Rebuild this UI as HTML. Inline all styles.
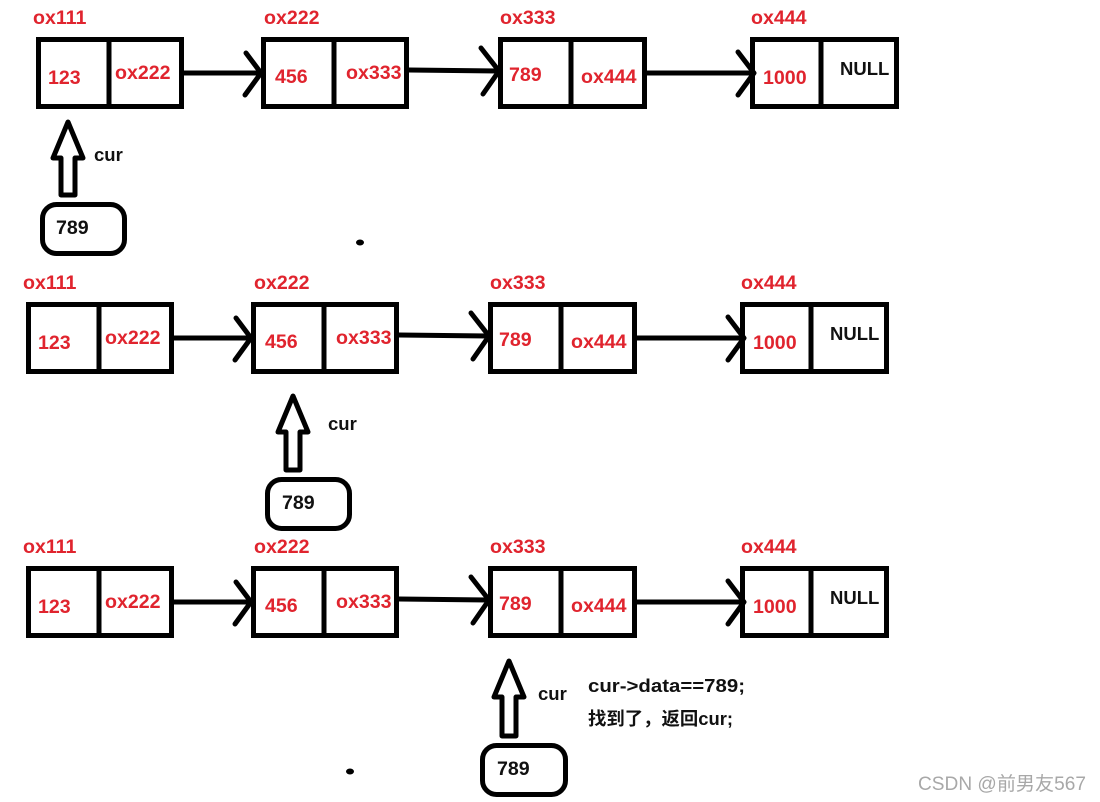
<!DOCTYPE html>
<html>
<head>
<meta charset="utf-8">
<style>
html,body{margin:0;padding:0;background:#fff;}
svg{display:block;}
text{font-family:"Liberation Sans","Noto Sans CJK SC",sans-serif;font-weight:700;font-size:19.6px;}
.r{fill:#e0242e;}
.k{fill:#111;}
.b{fill:none;stroke:#000;stroke-width:5;}
.l{fill:none;stroke:#000;stroke-width:5;stroke-linecap:round;stroke-linejoin:round;}
.p{fill:#fff;stroke:#000;stroke-width:5;stroke-linejoin:round;}
</style>
</head>
<body>
<svg width="1100" height="802" viewBox="0 0 1100 802" xmlns="http://www.w3.org/2000/svg">
<rect width="1100" height="802" fill="#fff"/>

<!-- Row 1 -->
<g>
<rect class="b" x="38.5" y="39.5" width="143" height="67"/><path class="b" d="M109 39V107"/>
<rect class="b" x="263.500" y="39.5" width="143" height="67"/><path class="b" d="M334 39V108"/>
<rect class="b" x="500.5" y="39.5" width="144" height="67"/><path class="b" d="M571 37V108"/>
<rect class="b" x="752.5" y="39.5" width="144" height="67"/><path class="b" d="M821 39V107"/>
<path class="l" d="M184 73H258M246 53L261 73L245 95"/>
<path class="l" d="M409 70L498 71M481 48L499 71L483 94"/>
<path class="l" d="M647 73H751M738 52L754 73L738 95"/>
<text class="r" x="33" y="24">ox111</text><text class="r" x="264" y="24">ox222</text><text class="r" x="500" y="24">ox333</text><text class="r" x="751" y="24">ox444</text>
<text class="r" x="48" y="84">123</text><text class="r" x="115" y="79">ox222</text>
<text class="r" x="275" y="83">456</text><text class="r" x="346" y="79">ox333</text>
<text class="r" x="509" y="81">789</text><text class="r" x="581" y="83">ox444</text>
<text class="r" x="763" y="84">1000</text><text class="k" x="840" y="75" style="font-size:18.500px">NULL</text>
</g>

<!-- Row 2 -->
<g transform="translate(-10,265)">
<rect class="b" x="38.5" y="39.5" width="143" height="67"/><path class="b" d="M109 39V107"/>
<rect class="b" x="263.500" y="39.5" width="143" height="67"/><path class="b" d="M334 39V108"/>
<rect class="b" x="500.5" y="39.5" width="144" height="67"/><path class="b" d="M571 37V108"/>
<rect class="b" x="752.5" y="39.5" width="144" height="67"/><path class="b" d="M821 39V107"/>
<path class="l" d="M184 73H258M246 53L261 73L245 95"/>
<path class="l" d="M409 70L498 71M481 48L499 71L483 94"/>
<path class="l" d="M647 73H751M738 52L754 73L738 95"/>
<text class="r" x="33" y="24">ox111</text><text class="r" x="264" y="24">ox222</text><text class="r" x="500" y="24">ox333</text><text class="r" x="751" y="24">ox444</text>
<text class="r" x="48" y="84">123</text><text class="r" x="115" y="79">ox222</text>
<text class="r" x="275" y="83">456</text><text class="r" x="346" y="79">ox333</text>
<text class="r" x="509" y="81">789</text><text class="r" x="581" y="83">ox444</text>
<text class="r" x="763" y="84">1000</text><text class="k" x="840" y="75" style="font-size:18.500px">NULL</text>
</g>

<!-- Row 3 -->
<g transform="translate(-10,529)">
<rect class="b" x="38.5" y="39.5" width="143" height="67"/><path class="b" d="M109 39V107"/>
<rect class="b" x="263.500" y="39.5" width="143" height="67"/><path class="b" d="M334 39V108"/>
<rect class="b" x="500.5" y="39.5" width="144" height="67"/><path class="b" d="M571 37V108"/>
<rect class="b" x="752.5" y="39.5" width="144" height="67"/><path class="b" d="M821 39V107"/>
<path class="l" d="M184 73H258M246 53L261 73L245 95"/>
<path class="l" d="M409 70L498 71M481 48L499 71L483 94"/>
<path class="l" d="M647 73H751M738 52L754 73L738 95"/>
<text class="r" x="33" y="24">ox111</text><text class="r" x="264" y="24">ox222</text><text class="r" x="500" y="24">ox333</text><text class="r" x="751" y="24">ox444</text>
<text class="r" x="48" y="84">123</text><text class="r" x="115" y="79">ox222</text>
<text class="r" x="275" y="83">456</text><text class="r" x="346" y="79">ox333</text>
<text class="r" x="509" y="81">789</text><text class="r" x="581" y="83">ox444</text>
<text class="r" x="763" y="84">1000</text><text class="k" x="840" y="75" style="font-size:18.500px">NULL</text>
</g>

<!-- Pointer arrows -->
<polygon class="p" points="68,122 53,158 61,158 61,195 75,195 75,158 83,158"/>
<polygon class="p" points="293,396 278,432 286,432 286,470 300,470 300,432 308,432"/>
<polygon class="p" points="509,661 494,697 502,697 502,736 516,736 516,697 524,697"/>

<!-- 789 boxes -->
<rect x="42.5" y="204.5" width="82" height="49" rx="14" fill="#fff" stroke="#000" stroke-width="5"/>
<rect x="267.5" y="479.5" width="82" height="49" rx="14" fill="#fff" stroke="#000" stroke-width="5"/>
<rect x="482.5" y="745.5" width="83" height="49" rx="14" fill="#fff" stroke="#000" stroke-width="5"/>
<text class="k" x="56" y="234">789</text>
<text class="k" x="282" y="509">789</text>
<text class="k" x="497" y="775">789</text>

<text class="k" x="94" y="161" style="font-size:18.500px">cur</text>
<text class="k" x="328" y="430" style="font-size:18.500px">cur</text>
<text class="k" x="538" y="700" style="font-size:18.500px">cur</text>

<text class="k" x="588" y="692" style="font-size:18px" textLength="157" lengthAdjust="spacingAndGlyphs">cur-&gt;data==789;</text>
<text class="k" x="588" y="725" style="font-size:18px" textLength="145" lengthAdjust="spacingAndGlyphs">找到了，返回cur;</text>

<ellipse cx="360" cy="242.500" rx="4" ry="3" fill="#000"/>
<ellipse cx="350" cy="771.500" rx="4" ry="3" fill="#000"/>

<text x="918" y="790" style="font-size:19px;font-weight:400;fill:#a8a8a8" textLength="168" lengthAdjust="spacingAndGlyphs">CSDN @前男友567</text>
</svg>
</body>
</html>
